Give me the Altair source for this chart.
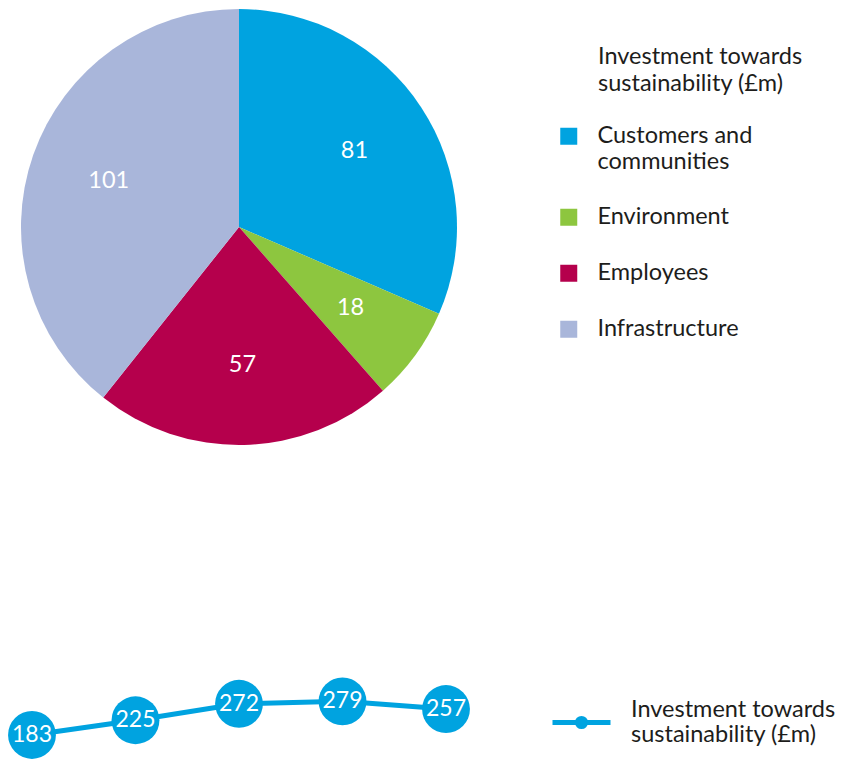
import altair as alt
import pandas as pd

# ---- data ----
categories = ["Customers and communities", "Environment", "Employees", "Infrastructure"]
values = [81, 18, 57, 101]
colors = ["#00A3E0", "#8DC63F", "#B5004C", "#A9B6DA"]

years = ["2019", "2020", "2021", "2022", "2023"]
totals = [183, 225, 272, 279, 257]
series_name = "Investment towards sustainability (£m)"

FONT = "Lato"
TEXT = "#1d1d1b"
BLUE = "#00A3E0"
FS = 23.5

pie_df = pd.DataFrame({"category": categories, "value": values,
                       "idx": list(range(len(categories)))})
line_df = pd.DataFrame({"year": years, "total": totals,
                        "series": [series_name] * len(years)})

CX, CY, R = 231, 219, 218

pie_base = alt.Chart(pie_df).encode(
    theta=alt.Theta("value:Q", stack=True),
    order=alt.Order("idx:Q"),
    x=alt.value(CX),
    y=alt.value(CY),
)

arcs = pie_base.mark_arc(outerRadius=R).encode(
    color=alt.Color(
        "category:N",
        scale=alt.Scale(domain=categories, range=colors),
        legend=alt.Legend(
            orient="none", legendX=590, legendY=37,
            title=["Investment towards", "sustainability (£m)"],
            titleFont=FONT, titleFontSize=FS, titleFontWeight="normal",
            titleColor=TEXT, titleAnchor="start", titlePadding=29,
            titleLineHeight=27, titleLimit=400,
            labelFont=FONT, labelFontSize=FS, labelColor=TEXT,
            labelOffset=17, labelLimit=400,
            labelExpr="datum.label == 'Customers and communities' ? ['Customers and', 'communities'] : datum.label",
            symbolType="square", symbolSize=289, symbolStrokeWidth=0,
            symbolOffset=-41,
            rowPadding=31,
        ),
    )
)

pie_text = pie_base.mark_text(radius=138, font=FONT, fontSize=FS, color="white").encode(
    text="value:Q"
)

top = (arcs + pie_text).properties(width=830, height=438)

# ---- line chart ----
line_base = alt.Chart(line_df).encode(
    x=alt.X("year:O", scale=alt.Scale(type="point", padding=0.2317), axis=None),
    y=alt.Y("total:Q", scale=alt.Scale(domain=[150, 300], zero=False, nice=False), axis=None),
)

line = line_base.mark_line(strokeWidth=5).encode(
    color=alt.Color(
        "series:N",
        scale=alt.Scale(domain=[series_name], range=[BLUE]),
        legend=alt.Legend(
            orient="none", legendX=542, legendY=-3, title=None,
            labelFont=FONT, labelFontSize=FS, labelColor=TEXT,
            labelOffset=18, labelLimit=400, labelBaseline="line-bottom",
            labelExpr="['Investment towards', 'sustainability (£m)']",
            symbolType="M-1,0L1,0M-0.14,0a0.14,0.14 0 1,0 0.28,0a0.14,0.14 0 1,0 -0.28,0",
            symbolSize=3364, symbolStrokeWidth=5, symbolFillColor=BLUE,
        ),
    )
)

points = line_base.mark_circle(size=2290, opacity=1, color=BLUE)
point_labels = line_base.mark_text(font=FONT, fontSize=23, color="white").encode(text="total:Q")

bottom = (line + points + point_labels).properties(width=462, height=52.5)

chart = (
    alt.vconcat(top, bottom, spacing=248, bounds="flush")
    .resolve_scale(color="independent")
    .resolve_legend(color="independent")
    .properties(padding=0)
    .configure_view(stroke=None)
)

chart.save("out.html", embed_options={"renderer": "svg", "actions": False})
